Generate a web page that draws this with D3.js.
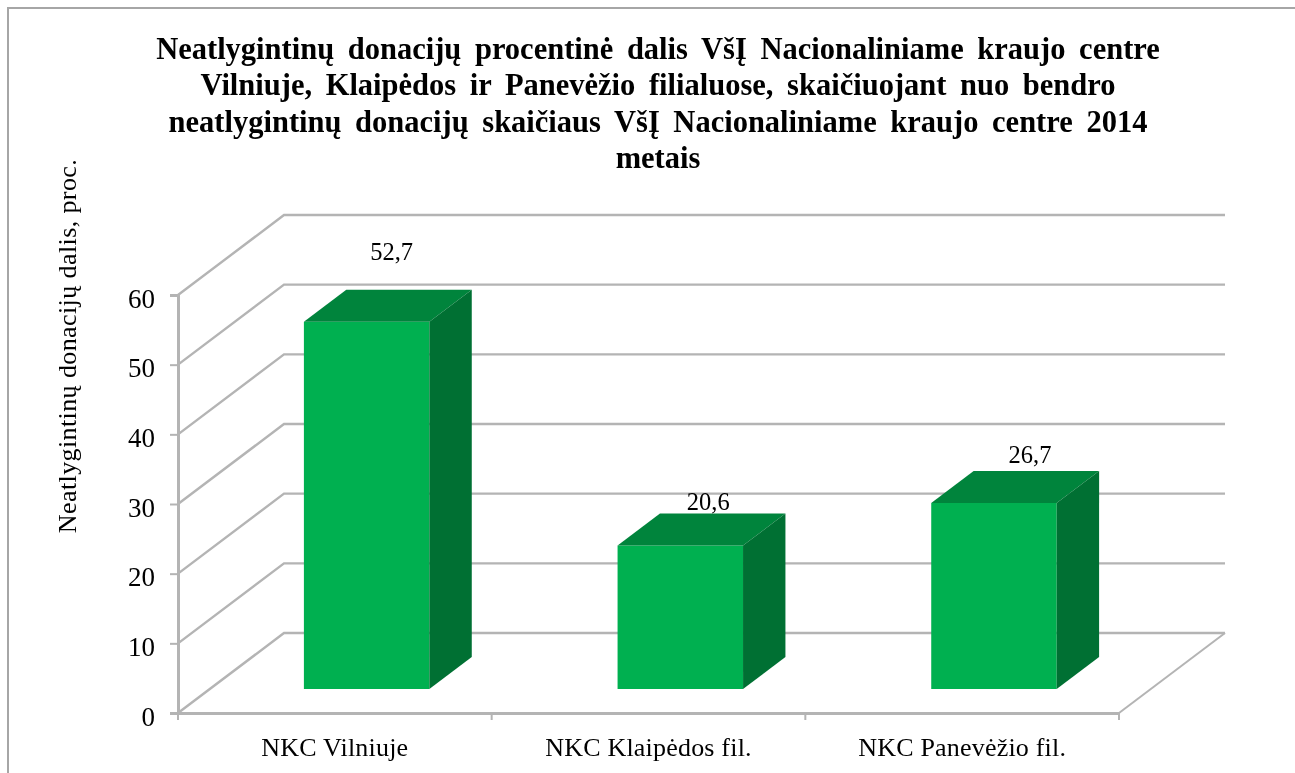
<!DOCTYPE html>
<html>
<head>
<meta charset="utf-8">
<script src="https://cdn.jsdelivr.net/npm/d3@7/dist/d3.min.js"></script>
<style>
html,body{margin:0;padding:0;background:#fff;overflow:hidden}
svg{display:block;filter:blur(0.45px)}
text{font-family:"Liberation Serif",serif;fill:#000}
</style>
</head>
<body>
<svg id="chart" width="1295" height="773"></svg>
<script>
const categories = ["NKC Vilniuje", "NKC Klaipėdos fil.", "NKC Panevėžio fil."];
const values = [52.7, 20.6, 26.7];
const valueLabels = ["52,7", "20,6", "26,7"];
const yTicks = [0, 10, 20, 30, 40, 50, 60];
const titleLines = [
  "Neatlygintinų donacijų procentinė dalis VšĮ Nacionaliniame kraujo centre",
  "Vilniuje, Klaipėdos ir Panevėžio filialuose, skaičiuojant nuo bendro",
  "neatlygintinų donacijų skaičiaus VšĮ Nacionaliniame kraujo centre 2014",
  "metais"
];
const yTitle = "Neatlygintinų donacijų dalis, proc.";

const svg = d3.select("#chart");
const x = d3.scaleBand().domain(categories).range([178, 1119]);
const y = d3.scaleLinear().domain([0, 60]).range([713, 295]);
const depth = d3.scaleLinear().domain([0, 1]).range([0, 106]);
const lift = d3.scaleLinear().domain([0, 1]).range([0, -80]);
const pt = (px, py, z) => [px + depth(z), py + lift(z)];
const line = d3.line();
const gridColor = "#b4b4b4";

// chart frame
svg.append("path").attr("d", "M8,773V8H1295").attr("fill", "none")
  .attr("stroke", "#a6a6a6").attr("stroke-width", 2);

// gridlines: wall diagonal + back wall
const [xa, xb] = x.range();
const grid = svg.append("g").attr("fill", "none").attr("stroke", gridColor).attr("stroke-width", 2.4);
grid.selectAll("path").data(yTicks).join("path")
  .attr("d", t => line([[xa, y(t)], pt(xa, y(t), 1), pt(xb, y(t), 1)]));
grid.append("path").attr("d", line([[xb, y(0)], pt(xb, y(0), 1)])).attr("stroke-width", 2);

// axes
const yAxis = d3.axisLeft(y).tickValues(yTicks).tickSize(8).tickPadding(15).tickFormat(d3.format("d"));
const gy = svg.append("g").attr("transform", `translate(${xa},0)`).call(yAxis);
gy.selectAll("text").attr("font-size", 27).attr("font-family", "Liberation Serif").attr("dy", "0.45em");

const xAxis = d3.axisBottom(x).tickSize(0).tickPadding(25);
const gx = svg.append("g").attr("transform", `translate(0,${y(0)})`).call(xAxis);
gx.selectAll("text").attr("font-size", 26).attr("font-family", "Liberation Serif")
  .attr("letter-spacing", 0.2).attr("dy", "0.69em");
// category boundary ticks
const bounds = categories.map(c => x(c)).concat([xb]);
gx.selectAll("line.b").data(bounds).join("line").attr("class", "b")
  .attr("x1", d => d).attr("x2", d => d).attr("y1", 0).attr("y2", 7);
[gy, gx].forEach(g => {
  g.selectAll("path.domain").attr("stroke", gridColor).attr("stroke-width", 3);
  g.selectAll("line").attr("stroke", gridColor).attr("stroke-width", 2);
});

// 3D bars
const zFront = 0.3, zBack = 0.7;
const barWidth = x.bandwidth() * 0.4;
const bars = svg.append("g").selectAll("g").data(categories).join("g");
const left = (c) => x(c) + (x.bandwidth() - barWidth) / 2;
const poly = (pts) => line(pts) + "Z";
bars.append("path").attr("fill", "#00B050")
  .attr("d", (c, i) => poly([pt(left(c), y(values[i]), zFront), pt(left(c) + barWidth, y(values[i]), zFront), pt(left(c) + barWidth, y(0), zFront), pt(left(c), y(0), zFront)]));
bars.append("path").attr("fill", "#00843C")
  .attr("d", (c, i) => poly([pt(left(c), y(values[i]), zFront), pt(left(c) + barWidth, y(values[i]), zFront), pt(left(c) + barWidth, y(values[i]), zBack), pt(left(c), y(values[i]), zBack)]));
bars.append("path").attr("fill", "#007033")
  .attr("d", (c, i) => poly([pt(left(c) + barWidth, y(values[i]), zFront), pt(left(c) + barWidth, y(values[i]), zBack), pt(left(c) + barWidth, y(0), zBack), pt(left(c) + barWidth, y(0), zFront)]));

// value labels (hand-placed above the bars, as in the reference)
const labelShift = [[25, -62], [28, -35], [36, -40]];
bars.append("text").attr("font-size", 24.5).attr("text-anchor", "middle")
  .attr("x", (c, i) => pt(left(c) + barWidth / 2, 0, zFront)[0] + labelShift[i][0])
  .attr("y", (c, i) => pt(0, y(values[i]), zFront)[1] + labelShift[i][1])
  .text((c, i) => valueLabels[i]);

// title
const titleY = d3.scaleLinear().domain([0, 3]).range([59, 168]);
svg.append("g").selectAll("text").data(titleLines).join("text")
  .attr("x", 658).attr("y", (d, i) => titleY(i))
  .attr("text-anchor", "middle").attr("font-size", 30.5).attr("font-weight", "bold")
  .attr("word-spacing", 6)
  .text(d => d);

// y title
svg.append("text").attr("transform", "translate(76,346) rotate(-90)")
  .attr("text-anchor", "middle").attr("font-size", 26).attr("letter-spacing", 0.4).text(yTitle);
</script>
</body>
</html>
